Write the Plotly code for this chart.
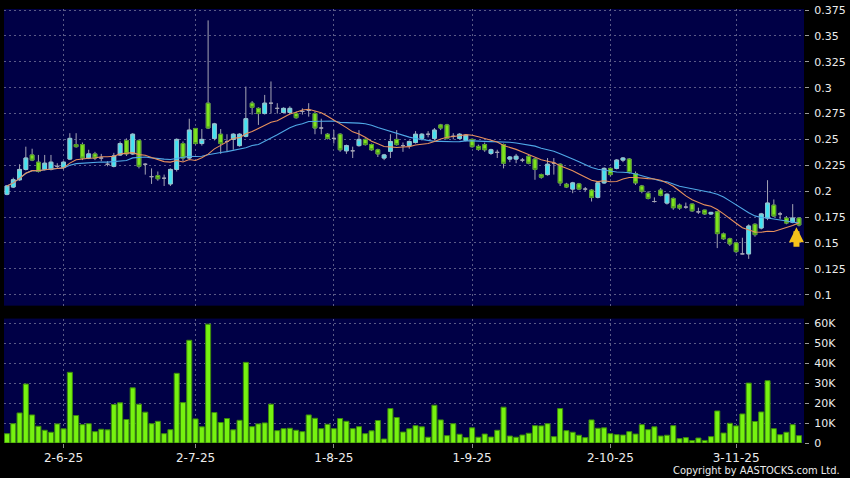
import numpy as np
import pandas as pd
import plotly.graph_objects as go

# ---------------- data ----------------
open_prices = [
    0.197, 0.204, 0.211, 0.221, 0.235, 0.228, 0.221, 0.221, 0.224, 0.223,
    0.231, 0.245, 0.245, 0.232, 0.236, 0.232, 0.226, 0.224, 0.235, 0.249,
    0.236, 0.249, 0.226, 0.214, 0.215, 0.2125, 0.207, 0.221, 0.246, 0.232,
    0.2606, 0.246, 0.285, 0.251, 0.255, 0.248, 0.250, 0.244, 0.253, 0.285,
    0.280, 0.275, 0.285, 0.280, 0.276, 0.276, 0.275, 0.277, 0.278, 0.275,
    0.261, 0.255, 0.251, 0.255, 0.239, 0.239, 0.244, 0.250, 0.245, 0.240,
    0.232, 0.2385, 0.250, 0.244, 0.244, 0.247, 0.251, 0.255, 0.251, 0.264,
    0.264, 0.253, 0.251, 0.249, 0.250, 0.2433, 0.245, 0.2365, 0.2375, 0.245,
    0.231, 0.231, 0.230, 0.2337, 0.231, 0.216, 0.216, 0.227, 0.226, 0.2067,
    0.202, 0.207, 0.202, 0.201, 0.194, 0.208, 0.222, 0.222, 0.230, 0.231,
    0.217, 0.205, 0.198, 0.190, 0.201, 0.1885, 0.193, 0.1865, 0.1846, 0.1875,
    0.180, 0.1817, 0.178, 0.180, 0.1587, 0.154, 0.150, 0.1394, 0.1394, 0.168,
    0.1644, 0.174, 0.1865, 0.178, 0.174, 0.170, 0.174,
]
high_prices = [
    0.206, 0.213, 0.226, 0.243, 0.241, 0.235, 0.235, 0.235, 0.227, 0.229,
    0.256, 0.256, 0.247, 0.240, 0.238, 0.236, 0.229, 0.237, 0.248, 0.251,
    0.256, 0.250, 0.227, 0.222, 0.219, 0.216, 0.222, 0.251, 0.248, 0.270,
    0.261, 0.260, 0.365, 0.266, 0.260, 0.255, 0.256, 0.256, 0.301, 0.287,
    0.281, 0.293, 0.306, 0.285, 0.281, 0.282, 0.277, 0.280, 0.285, 0.277,
    0.270, 0.256, 0.259, 0.256, 0.245, 0.243, 0.259, 0.251, 0.246, 0.241,
    0.236, 0.255, 0.259, 0.247, 0.249, 0.258, 0.256, 0.258, 0.261, 0.265,
    0.265, 0.256, 0.256, 0.255, 0.251, 0.245, 0.247, 0.241, 0.240, 0.246,
    0.234, 0.236, 0.232, 0.235, 0.232, 0.217, 0.232, 0.232, 0.227, 0.208,
    0.209, 0.208, 0.204, 0.202, 0.209, 0.223, 0.223, 0.231, 0.233, 0.232,
    0.219, 0.206, 0.200, 0.194, 0.203, 0.198, 0.194, 0.188, 0.189, 0.188,
    0.184, 0.182, 0.180, 0.181, 0.160, 0.155, 0.151, 0.155, 0.168, 0.169,
    0.179, 0.2106, 0.192, 0.180, 0.176, 0.1875, 0.175,
]
low_prices = [
    0.196, 0.203, 0.210, 0.220, 0.229, 0.218, 0.220, 0.220, 0.222, 0.221,
    0.230, 0.242, 0.230, 0.231, 0.230, 0.229, 0.224, 0.223, 0.234, 0.234,
    0.235, 0.222, 0.216, 0.207, 0.210, 0.205, 0.205, 0.219, 0.229, 0.230,
    0.245, 0.244, 0.260, 0.249, 0.236, 0.238, 0.240, 0.243, 0.252, 0.274,
    0.264, 0.274, 0.275, 0.275, 0.275, 0.274, 0.270, 0.274, 0.272, 0.255,
    0.255, 0.250, 0.246, 0.238, 0.236, 0.232, 0.243, 0.244, 0.239, 0.233,
    0.230, 0.232, 0.244, 0.238, 0.241, 0.246, 0.249, 0.252, 0.249, 0.259,
    0.250, 0.250, 0.250, 0.248, 0.242, 0.239, 0.238, 0.235, 0.232, 0.222,
    0.228, 0.227, 0.228, 0.226, 0.211, 0.212, 0.215, 0.216, 0.205, 0.203,
    0.198, 0.201, 0.200, 0.190, 0.193, 0.207, 0.214, 0.221, 0.228, 0.217,
    0.206, 0.198, 0.192, 0.189, 0.195, 0.187, 0.182, 0.182, 0.183, 0.180,
    0.178, 0.177, 0.177, 0.145, 0.153, 0.147, 0.140, 0.139, 0.1346, 0.156,
    0.163, 0.172, 0.175, 0.173, 0.168, 0.169, 0.166,
]
close_prices = [
    0.205, 0.211, 0.221, 0.232, 0.230, 0.219, 0.227, 0.228, 0.224, 0.228,
    0.251, 0.243, 0.232, 0.236, 0.232, 0.232, 0.226, 0.234, 0.246, 0.236,
    0.255, 0.224, 0.226, 0.214, 0.212, 0.2125, 0.221, 0.250, 0.232, 0.259,
    0.246, 0.250, 0.261, 0.265, 0.246, 0.248, 0.255, 0.255, 0.270, 0.281,
    0.275, 0.285, 0.285, 0.280, 0.280, 0.280, 0.271, 0.277, 0.278, 0.261,
    0.261, 0.251, 0.251, 0.240, 0.244, 0.239, 0.250, 0.245, 0.240, 0.236,
    0.235, 0.248, 0.245, 0.244, 0.248, 0.255, 0.255, 0.255, 0.259, 0.261,
    0.251, 0.253, 0.255, 0.254, 0.243, 0.2404, 0.240, 0.240, 0.2375, 0.227,
    0.233, 0.2337, 0.230, 0.227, 0.221, 0.2135, 0.226, 0.227, 0.208, 0.204,
    0.208, 0.202, 0.202, 0.194, 0.208, 0.222, 0.216, 0.230, 0.232, 0.218,
    0.208, 0.200, 0.193, 0.190, 0.196, 0.197, 0.184, 0.1837, 0.1846, 0.181,
    0.180, 0.178, 0.1795, 0.159, 0.154, 0.149, 0.1416, 0.1394, 0.1663, 0.158,
    0.178, 0.1885, 0.176, 0.178, 0.1692, 0.174, 0.1673,
]
volumes = [
    4700, 9700, 15100, 29600, 14100, 8400, 6400, 5400, 9600, 7100,
    35500, 13800, 9200, 9700, 5700, 6900, 6600, 19300, 20200, 11800,
    27700, 19500, 15500, 9700, 10900, 4700, 6700, 35000, 20300, 51600,
    12100, 8100, 59700, 15300, 10300, 12300, 6600, 11400, 40500, 8200,
    9600, 10100, 19500, 6200, 7200, 7400, 6400, 5700, 14100, 12400,
    7200, 9400, 7200, 12300, 10900, 7200, 8200, 4700, 6100, 11300,
    2000, 17300, 12800, 5500, 7100, 8700, 8100, 2900, 19000, 11600,
    3700, 9700, 4400, 2700, 7600, 2900, 4500, 3000, 6400, 18000,
    3500, 2900, 4000, 4900, 8700, 8600, 9700, 3200, 17300, 6200,
    5400, 3900, 2700, 11600, 7400, 7600, 4700, 4200, 4000, 5700,
    4500, 9200, 6700, 8100, 3500, 3900, 8700, 2200, 2700, 1200,
    2500, 1300, 3200, 16100, 5000, 9900, 8600, 14600, 30100, 10800,
    15600, 31300, 7200, 4200, 5400, 9200, 3700,
]
month_tick_index = [9, 30, 52, 74, 96, 116]
month_tick_labels = ["2-6-25", "2-7-25", "1-8-25", "1-9-25", "2-10-25", "3-11-25"]
price_ticks = [0.1, 0.125, 0.15, 0.175, 0.2, 0.225, 0.25, 0.275, 0.3, 0.325, 0.35, 0.375]
price_tick_labels = ["0.1", "0.125", "0.15", "0.175", "0.2", "0.225", "0.25",
                     "0.275", "0.3", "0.325", "0.35", "0.375"]
volume_ticks = [0, 10000, 20000, 30000, 40000, 50000, 60000]
volume_tick_labels = ["0", "10K", "20K", "30K", "40K", "50K", "60K"]

# ---------------- styling ----------------
BG = "#000046"
GRID = "#5a5a86"
WICK = "#a4a4b4"
CYAN = "#3fe3f2"
CYAN_EDGE = "#8fc4d0"
GREEN = "#7fe41e"
GREEN_EDGE = "#4f9a22"
MA_FAST = "#e8915c"
MA_SLOW = "#4fa8e6"
VOL = "#76f210"
VOL_EDGE = "#3c8a0c"
FONT = "DejaVu Sans"
TXT = "#ececec"
DASH = "2px,3px"

o = np.array(open_prices)
h = np.array(high_prices)
l = np.array(low_prices)
c = np.array(close_prices)
n = len(c)
idx = np.arange(n)

ma10 = pd.Series(c).rolling(10, min_periods=1).mean()
ma20 = pd.Series(c).rolling(20, min_periods=1).mean()

up = c > o
dn = c < o
body_hi = np.maximum(o, c)
body_lo = np.minimum(o, c)

fig = go.Figure()

# wicks (and doji bars) in grey
fig.add_trace(go.Candlestick(
    x=idx, open=o, high=h, low=l, close=c,
    increasing=dict(line=dict(color=WICK, width=1), fillcolor=WICK),
    decreasing=dict(line=dict(color=WICK, width=1), fillcolor=WICK),
    whiskerwidth=0, hoverinfo="skip", showlegend=False, xaxis="x", yaxis="y"))

# rising bodies
fig.add_trace(go.Candlestick(
    x=idx[up], open=o[up], high=body_hi[up], low=body_lo[up], close=c[up],
    increasing=dict(line=dict(color=CYAN_EDGE, width=1), fillcolor=CYAN),
    decreasing=dict(line=dict(color=CYAN_EDGE, width=1), fillcolor=CYAN),
    whiskerwidth=0, hoverinfo="skip", showlegend=False, xaxis="x", yaxis="y"))

# falling bodies
fig.add_trace(go.Candlestick(
    x=idx[dn], open=o[dn], high=body_hi[dn], low=body_lo[dn], close=c[dn],
    increasing=dict(line=dict(color=GREEN_EDGE, width=1), fillcolor=GREEN),
    decreasing=dict(line=dict(color=GREEN_EDGE, width=1), fillcolor=GREEN),
    whiskerwidth=0, hoverinfo="skip", showlegend=False, xaxis="x", yaxis="y"))

fig.add_trace(go.Scatter(x=idx, y=ma20, mode="lines", line=dict(color=MA_SLOW, width=1.1),
                         hoverinfo="skip", showlegend=False, xaxis="x", yaxis="y"))
fig.add_trace(go.Scatter(x=idx, y=ma10, mode="lines", line=dict(color=MA_FAST, width=1.1),
                         hoverinfo="skip", showlegend=False, xaxis="x", yaxis="y"))

fig.add_trace(go.Bar(x=idx, y=volumes, marker=dict(color=VOL, line=dict(color=VOL_EDGE, width=1)),
                     hoverinfo="skip", showlegend=False, xaxis="x2", yaxis="y2"))

x_range = [-0.475, n - 0.2]

fig.update_layout(
    width=850, height=478,
    margin=dict(l=4, r=42, t=7, b=35),
    paper_bgcolor="black", plot_bgcolor=BG,
    showlegend=False, boxgap=0.15, bargap=0.2,
    font=dict(family=FONT, size=11, color=TXT),
    xaxis=dict(domain=[0, 1], anchor="y", range=x_range, rangeslider=dict(visible=False),
               tickvals=month_tick_index, showticklabels=False, ticks="",
               showgrid=True, gridcolor=GRID, griddash=DASH, gridwidth=1, zeroline=False,
               showline=False),
    xaxis2=dict(domain=[0, 1], anchor="y2", range=x_range, matches="x",
                tickvals=month_tick_index, ticktext=month_tick_labels,
                ticks="outside", ticklen=4, tickcolor="#8a8a8a",
                showgrid=True, gridcolor=GRID, griddash=DASH, gridwidth=1, zeroline=False,
                showline=False, tickfont=dict(size=12)),
    yaxis=dict(domain=[0.3165, 1], anchor="x", side="right", range=[0.0894, 0.376],
               tickvals=price_ticks, ticktext=price_tick_labels,
               ticks="outside", ticklen=4, tickcolor="#9a9a9a", ticklabelstandoff=3,
               showgrid=True, gridcolor=GRID, griddash=DASH, gridwidth=1, zeroline=False,
               showline=False),
    yaxis2=dict(domain=[0, 0.2867], anchor="x2", side="right", range=[0, 62500],
                tickvals=volume_ticks, ticktext=volume_tick_labels,
                ticks="outside", ticklen=4, tickcolor="#9a9a9a", ticklabelstandoff=3,
                showgrid=True, gridcolor=GRID, griddash=DASH, gridwidth=1, zeroline=False,
                showline=False),
)

# yellow marker arrow under the latest bar
fig.add_annotation(x=n - 1.4, y=low_prices[-1], xref="x", yref="y", text="",
                   showarrow=True, arrowhead=2, arrowsize=0.5, arrowwidth=6,
                   arrowcolor="#f6c21a", ax=0, ay=22, standoff=1)

fig.add_annotation(text="Copyright by AASTOCKS.com Ltd.", xref="paper", yref="paper",
                   x=1.047, y=-0.064, xanchor="right", yanchor="middle", showarrow=False,
                   font=dict(family="DejaVu Sans Condensed, Liberation Sans Narrow, Liberation Sans",
                             size=11, color=TXT))

fig.write_html("out.html", config={"displayModeBar": False},
               post_script="document.body.style.margin='0';document.body.style.overflow='hidden';")
